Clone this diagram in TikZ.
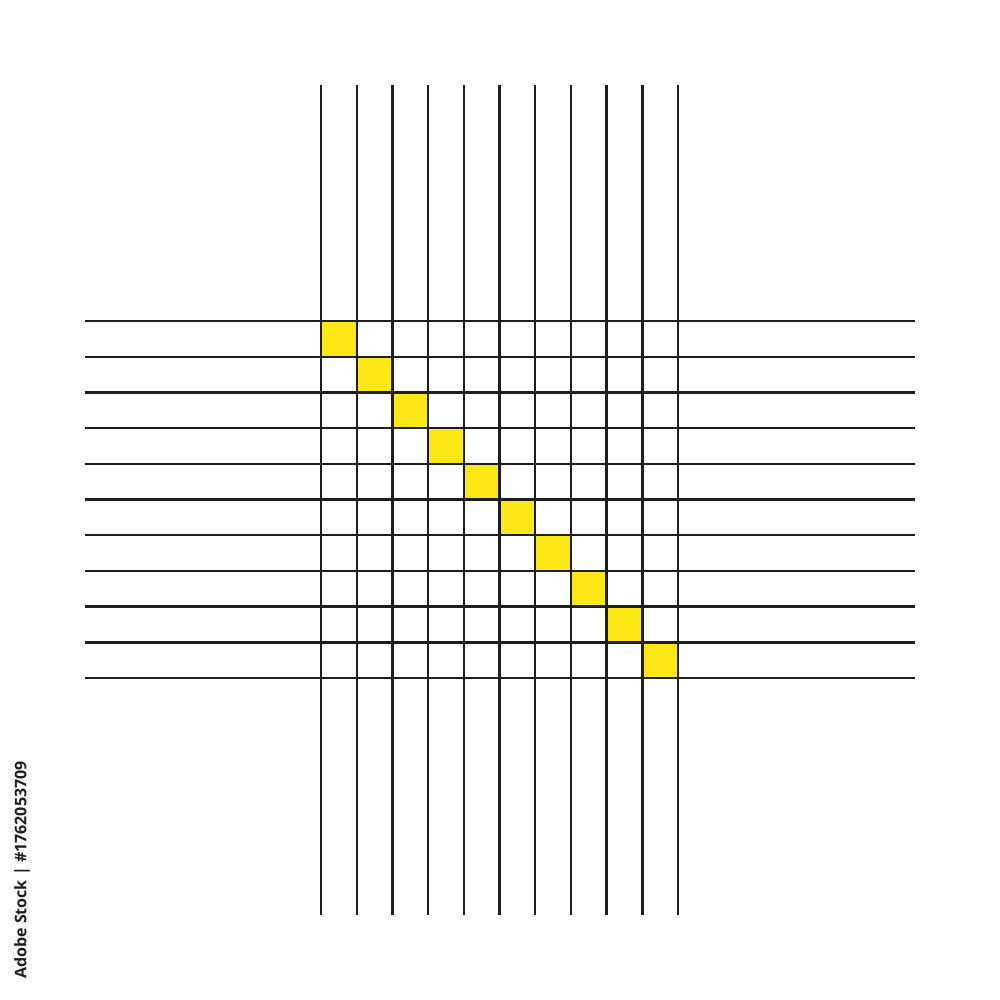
\documentclass[tikz,border=0pt]{standalone}
\usepackage{fontspec}
\setmainfont{Open Sans}
\definecolor{gridyellow}{HTML}{FCE817}
\definecolor{gridline}{HTML}{1E1E1E}
\tikzset{
  gline/.style={draw=gridline, line width=2.4pt},
  ycell/.style={fill=gridyellow, draw=none},
}
\begin{document}
\begin{tikzpicture}[x=1pt,y=-1pt]
\useasboundingbox[fill=white] (0,0) rectangle (1000,1000);
\foreach \i in {0,...,9} {
  \fill[ycell] ({321+35.7*\i},{321+35.7*\i}) rectangle ({321+35.7*(\i+1)},{321+35.7*(\i+1)});
}
\foreach \i in {0,...,10} {
  \draw[gline] ({321+35.7*\i},85) -- ({321+35.7*\i},915);
  \draw[gline] (85,{321+35.7*\i}) -- (915,{321+35.7*\i});
}
\node[rotate=90, text=gridline, font=\bfseries\fontsize{16}{18}\selectfont, inner sep=0pt] (stock) at (22,870) {Adobe Stock | \#1762053709};
\end{tikzpicture}
\end{document}
